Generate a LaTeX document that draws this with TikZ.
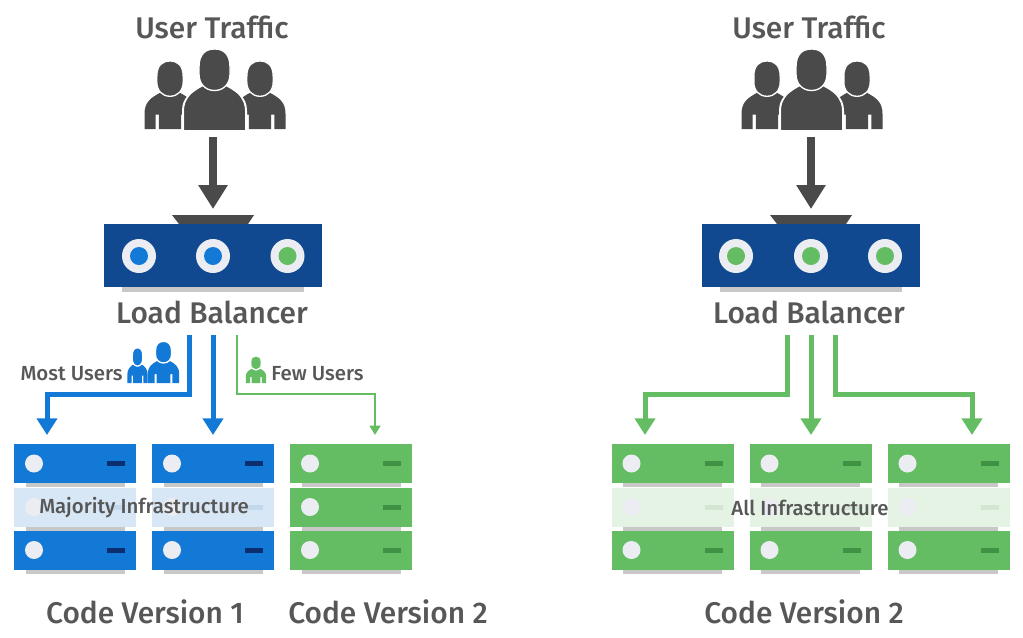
\documentclass[tikz,border=0pt]{standalone}
\usepackage{fontspec}
\setmainfont{Fira Sans Medium}
\usetikzlibrary{arrows.meta}
\definecolor{dkgrey}{HTML}{4A4A4A}
\definecolor{txtgrey}{HTML}{575757}
\definecolor{lbblue}{HTML}{10498F}
\definecolor{srvblue}{HTML}{1279D6}
\definecolor{srvnavy}{HTML}{0B2F6E}
\definecolor{srvgreen}{HTML}{64BD63}
\definecolor{srvdkgreen}{HTML}{3F9143}
\definecolor{paleblue}{HTML}{D7E7F6}
\definecolor{palebar}{HTML}{C4D8EB}
\definecolor{palegreen}{HTML}{E4F3E4}
\definecolor{palegrbar}{HTML}{D3E6D3}
\definecolor{ringgrey}{HTML}{ECEDF2}
\definecolor{shadegrey}{HTML}{C8C8C8}
\tikzset{
  lbltitle/.style={text=txtgrey, inner sep=0pt, font=\fontsize{22.4}{26}\selectfont},
  lblsmall/.style={text=txtgrey, inner sep=0pt, font=\fontsize{15.3}{18}\selectfont},
  lbbox/.style={rectangle, fill=lbblue, inner sep=0pt, minimum width=163.5pt, minimum height=47.25pt},
  lbshade/.style={rectangle, fill=shadegrey, inner sep=0pt, minimum width=136.5pt, minimum height=3.75pt},
  ring/.style={circle, fill=ringgrey, inner sep=0pt, minimum size=25.5pt},
  dot/.style={circle, inner sep=0pt, minimum size=13.5pt},
  srvbox/.style={rectangle, inner sep=0pt, minimum width=91.5pt, minimum height=29.25pt},
  srvshade/.style={rectangle, fill=shadegrey, inner sep=0pt, minimum width=74.25pt, minimum height=3.5pt},
  srvlamp/.style={circle, fill=ringgrey, inner sep=0pt, minimum size=13.5pt},
  srvbar/.style={rectangle, inner sep=0pt, minimum width=13.5pt, minimum height=3.75pt},
  bigarrow/.style={draw=dkgrey, line width=6.5pt, -{Triangle[width=21pt,length=18pt]}},
  wideblue/.style={draw=srvblue, line width=3.75pt, -{Triangle[width=15pt,length=12.5pt]}},
  widegreen/.style={draw=srvgreen, line width=3.75pt, -{Triangle[width=15pt,length=12.5pt]}},
  thingreen/.style={draw=srvgreen, line width=1.9pt, -{Triangle[width=8pt,length=7pt]}},
  pics/server/.style 2 args={code={
    \node[srvshade] (-shade) at (0,21.5){};
    \node[srvbox, fill=#1] (-box) at (0,0){};
    \node[srvlamp] (-lamp) at (-41,0){};
    \node[srvbar, fill=#2] (-bar) at (41,0){};
  }},
  pics/person/.style={code={
    \fill[#1] (-30,0) -- (-30,-18) .. controls (-30,-32) and (-22,-37) .. (-11,-43)
      -- (11,-43) .. controls (22,-37) and (30,-32) .. (30,-18) -- (30,0)
      -- (17,0) -- (17,-17) -- (13,-17) -- (13,0) -- (-13,0) -- (-13,-17) -- (-17,-17) -- (-17,0) -- cycle;
    \filldraw[fill=#1, draw=white, line width=1pt] (-15.5,-62) .. controls (-15.5,-75) and (-9,-80) .. (0,-80)
      .. controls (9,-80) and (15.5,-75) .. (15.5,-62) -- (15.5,-55) .. controls (15.5,-45) and (9,-38.5) .. (0,-38.5)
      .. controls (-9,-38.5) and (-15.5,-45) .. (-15.5,-55) -- cycle;
  }},
}
\begin{document}
\begin{tikzpicture}[x=.75pt,y=-.75pt]
\useasboundingbox (0,0) rectangle (1023,637);
% left side
\node[lbltitle] (title1) at (212,27){User Traffic};
\pic[scale=.85] (u1) at (170,129) {person=dkgrey};
\pic[scale=.85] (u2) at (260,129) {person=dkgrey};
\filldraw[fill=dkgrey, draw=white, line width=1.5pt] (183,131) -- (183,111) .. controls (183,97) and (192,93) .. (203,87) -- (226,87) .. controls (237,93) and (246,97) .. (246,111) -- (246,131) -- cycle;
\pic (u3) at (214.5,129) {person=dkgrey};
\coordinate (in1) at (213,137);
\coordinate (lbtop1) at (213,209);
\draw[bigarrow] (in1) -- (lbtop1);
\fill[dkgrey] (172,215) -- (254,215) -- (248,224) -- (179,224) -- cycle;
\node[lbshade] (lbs1) at (213,289.5){};
\node[lbbox] (lb1) at (213,255.5){};
\node[ring] (r1) at (139,256){};
\node[dot, fill=srvblue] (d1) at (139,256){};
\node[ring] (r2) at (213,256){};
\node[dot, fill=srvblue] (d2) at (213,256){};
\node[ring] (r3) at (287.5,256){};
\node[dot, fill=srvgreen] (d3) at (287.5,256){};
\node[lbltitle] (lbl1) at (212,312){Load Balancer};
\coordinate (c1) at (189,335);
\coordinate (c2) at (213,335);
\coordinate (c3) at (237,335);
\coordinate (e1) at (47,435);
\coordinate (e2) at (213,435);
\coordinate (e3) at (375,435);
\draw[wideblue] (c1) -- ++(0,59) -| (e1);
\draw[wideblue] (c2) -- (e2);
\draw[thingreen] (c3) -- ++(0,59) -| (e3);
\node[lblsmall] (most) at (71.5,374){Most Users};
\pic[xscale=.34,yscale=.44] (m1) at (137.5,383) {person=srvblue};
\pic[scale=.52] (m2) at (163.5,383) {person=srvblue};
\pic[scale=.34] (f1) at (256,383) {person=srvgreen};
\node[lblsmall] (few) at (317.5,374){Few Users};
\pic (a1) at (75,463.5) {server={srvblue}{srvnavy}};
\pic (a2) at (75,507) {server={paleblue}{palebar}};
\pic (a3) at (75,550) {server={srvblue}{srvnavy}};
\pic (b1) at (213,463.5) {server={srvblue}{srvnavy}};
\pic (b2) at (213,507) {server={paleblue}{palebar}};
\pic (b3) at (213,550) {server={srvblue}{srvnavy}};
\pic (g1) at (351,463.5) {server={srvgreen}{srvdkgreen}};
\pic (g2) at (351,507) {server={srvgreen}{srvdkgreen}};
\pic (g3) at (351,550) {server={srvgreen}{srvdkgreen}};
\node[lblsmall] (major) at (144,508){Majority Infrastructure};
\node[lbltitle] (cv1) at (145,612){Code Version 1};
\node[lbltitle] (cv2) at (388,612){Code Version 2};
% right side
\node[lbltitle] (title2) at (809,27){User Traffic};
\pic[scale=.85] (v1) at (767,129) {person=dkgrey};
\pic[scale=.85] (v2) at (857,129) {person=dkgrey};
\filldraw[fill=dkgrey, draw=white, line width=1.5pt] (780,131) -- (780,111) .. controls (780,97) and (789,93) .. (800,87) -- (823,87) .. controls (834,93) and (843,97) .. (843,111) -- (843,131) -- cycle;
\pic (v3) at (811.5,129) {person=dkgrey};
\coordinate (in2) at (811,137);
\coordinate (lbtop2) at (811,209);
\draw[bigarrow] (in2) -- (lbtop2);
\fill[dkgrey] (770,215) -- (852,215) -- (846,224) -- (777,224) -- cycle;
\node[lbshade] (lbs2) at (811,289.5){};
\node[lbbox] (lb2) at (811,255.5){};
\node[ring] (r4) at (736,256){};
\node[dot, fill=srvgreen] (d4) at (736,256){};
\node[ring] (r5) at (811,256){};
\node[dot, fill=srvgreen] (d5) at (811,256){};
\node[ring] (r6) at (885,256){};
\node[dot, fill=srvgreen] (d6) at (885,256){};
\node[lbltitle] (lbl2) at (809,312){Load Balancer};
\coordinate (c4) at (787,335);
\coordinate (c5) at (811,335);
\coordinate (c6) at (835,335);
\coordinate (e4) at (645,435);
\coordinate (e5) at (811,435);
\coordinate (e6) at (972,435);
\draw[widegreen] (c4) -- ++(0,59) -| (e4);
\draw[widegreen] (c5) -- (e5);
\draw[widegreen] (c6) -- ++(0,59) -| (e6);
\pic (h1) at (672.5,463.5) {server={srvgreen}{srvdkgreen}};
\pic (h2) at (672.5,507) {server={palegreen}{palegrbar}};
\pic (h3) at (672.5,550) {server={srvgreen}{srvdkgreen}};
\pic (i1) at (810.5,463.5) {server={srvgreen}{srvdkgreen}};
\pic (i2) at (810.5,507) {server={palegreen}{palegrbar}};
\pic (i3) at (810.5,550) {server={srvgreen}{srvdkgreen}};
\pic (j1) at (948.5,463.5) {server={srvgreen}{srvdkgreen}};
\pic (j2) at (948.5,507) {server={palegreen}{palegrbar}};
\pic (j3) at (948.5,550) {server={srvgreen}{srvdkgreen}};
\node[lblsmall] (allinf) at (810,507.5){All Infrastructure};
\node[lbltitle] (cv3) at (804,612){Code Version 2};
\end{tikzpicture}
\end{document}
